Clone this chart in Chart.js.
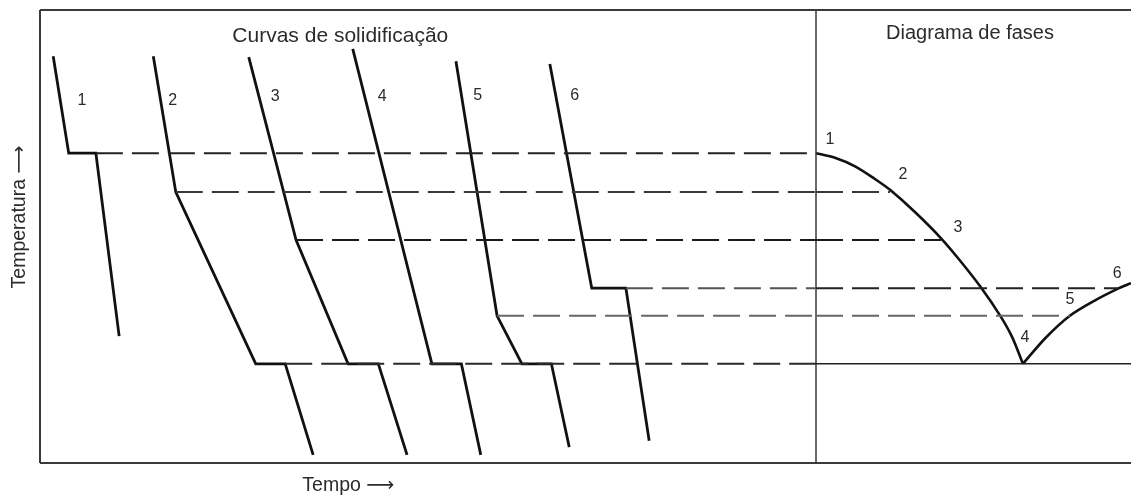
<!DOCTYPE html>
<html>
<head>
<meta charset="utf-8">
<script src="https://cdn.jsdelivr.net/npm/chart.js@4.4.1/dist/chart.umd.min.js"></script>
<style>
  html, body { margin: 0; padding: 0; background: #fff; }
  #wrap { width: 1131px; height: 498px; }
</style>
</head>
<body>
<div id="wrap"><canvas id="c"></canvas></div>
<script>
// Cooling curves of six alloys: [time, temperature] break points
const curve1 = [[1.7, 89.8], [3.7, 68.4], [7.2, 68.4], [10.2, 28.0]];
const curve2 = [[14.6, 89.8], [17.5, 59.8], [27.8, 21.9], [31.6, 21.9], [35.2, 1.8]];
const curve3 = [[26.9, 89.6], [33.0, 49.2], [39.7, 21.9], [43.6, 21.9], [47.3, 1.8]];
const curve4 = [[40.3, 91.4], [50.5, 21.9], [54.3, 21.9], [56.8, 1.8]];
const curve5 = [[53.6, 88.7], [58.9, 32.5], [62.1, 21.9], [65.9, 21.9], [68.2, 3.5]];
const curve6 = [[65.7, 88.1], [71.1, 38.6], [75.5, 38.6], [78.5, 4.9]];

// Liquidus temperature and composition of each alloy (1..6)
const liquidusTemps = [68.4, 59.8, 49.2, 21.9, 32.5, 38.6];
const alloyComps = [0, 23.5, 39.7, 65.7, 80.6, 96.2];
// Time at which each dashed tie line leaves its cooling curve
const tieStartTimes = [7.2, 17.5, 33.0, 31.6, 58.9, 75.5];

// Liquidus branches of the phase diagram: [composition, temperature]
const liquidusLeft = [[0, 68.4], [6.0, 67.4], [12.4, 65.5], [18.7, 62.7], [23.5, 60.3], [31.4, 55.4],
                      [39.7, 49.6], [45.7, 44.7], [52.1, 39.0], [58.4, 32.6], [62.2, 27.9], [65.7, 21.9]];
const liquidusRight = [[65.7, 21.9], [73.0, 27.7], [80.6, 32.5], [88.6, 35.9], [96.2, 38.6], [100, 39.7]];
const eutecticTemp = 21.9;

const curveLabels = ['1', '2', '3', '4', '5', '6'];

const pts = arr => arr.map(([x, y]) => ({ x, y }));

const datasets = [];

// Tie lines from the arrest points to the phase diagram
const tieColors = ['#222', '#3a3a3a', '#1a1a1a', '#2a2a2a', '#666', '#555'];
liquidusTemps.forEach((T, i) => {
  datasets.push({
    data: pts([[tieStartTimes[i], T], [100, T]]),
    xAxisID: 'x', borderColor: tieColors[i], borderWidth: 2, borderDash: [27, 9]
  });
  if (i === 3) {
    // eutectic isotherm, solid across the phase diagram
    datasets.push({
      data: pts([[0, eutecticTemp], [100, eutecticTemp]]),
      xAxisID: 'xc', borderColor: '#222', borderWidth: 1.6
    });
  } else if (alloyComps[i] > 0) {
    datasets.push({
      data: pts([[0, T], [alloyComps[i], T]]),
      xAxisID: 'xc', borderColor: i === 5 ? '#222' : tieColors[i], borderWidth: 2, borderDash: [27, 9]
    });
  }
});

// Frame and phase-diagram axis
const frameTimeMax = 140.59;
[
  { d: [[0, 100], [frameTimeMax, 100]], ax: 'x' },
  { d: [[0, 0], [0, 100]], ax: 'x' },
  { d: [[0, 0], [frameTimeMax, 0]], ax: 'x' },
  { d: [[0, 0], [0, 100]], ax: 'xc', w: 1.5 }
].forEach(f => datasets.push({
  data: pts(f.d), xAxisID: f.ax, borderColor: '#3a3a3a', borderWidth: f.w || 2, clip: 4
}));

// Liquidus curve
[liquidusLeft, liquidusRight].forEach(b => datasets.push({
  data: pts(b), xAxisID: 'xc', borderColor: '#111', borderWidth: 2.6,
  tension: 0.3
}));

// Cooling curves
[curve1, curve2, curve3, curve4, curve5, curve6].forEach(c => datasets.push({
  data: pts(c), xAxisID: 'x', borderColor: '#111', borderWidth: 2.8,
  borderJoinStyle: 'miter'
}));

datasets.forEach(d => {
  d.showLine = true;
  d.pointRadius = 0;
  d.pointHoverRadius = 0;
  d.yAxisID = 'y';
  d.fill = false;
});

// Text drawn in data coordinates
const textItems = [
  { text: 'Curvas de solidificação', ax: 'x', x: 38.7, y: 94.2, size: 21 },
  { text: 'Diagrama de fases', ax: 'xc', x: 48.9, y: 94.9, size: 20 },
  // cooling-curve numbers
  { text: curveLabels[0], ax: 'x', x: 5.4, y: 80.1, size: 16 },
  { text: curveLabels[1], ax: 'x', x: 17.1, y: 80.1, size: 16 },
  { text: curveLabels[2], ax: 'x', x: 30.3, y: 80.8, size: 16 },
  { text: curveLabels[3], ax: 'x', x: 44.1, y: 80.8, size: 16 },
  { text: curveLabels[4], ax: 'x', x: 56.4, y: 81.0, size: 16 },
  { text: curveLabels[5], ax: 'x', x: 68.9, y: 81.2, size: 16 },
  // phase-diagram numbers
  { text: curveLabels[0], ax: 'xc', x: 4.4, y: 71.3, size: 16 },
  { text: curveLabels[1], ax: 'xc', x: 27.6, y: 63.6, size: 16 },
  { text: curveLabels[2], ax: 'xc', x: 45.1, y: 51.9, size: 16 },
  { text: curveLabels[3], ax: 'xc', x: 66.3, y: 27.6, size: 16 },
  { text: curveLabels[4], ax: 'xc', x: 80.6, y: 36.0, size: 16 },
  { text: curveLabels[5], ax: 'xc', x: 95.6, y: 41.9, size: 16 }
];

const textPlugin = {
  id: 'sketchText',
  afterDatasetsDraw(chart) {
    const { ctx, scales, chartArea } = chart;
    const font = s => s + 'px "Liberation Sans", Arial, "DejaVu Sans", sans-serif';
    ctx.save();
    ctx.fillStyle = '#2b2b2b';
    ctx.textBaseline = 'middle';
    textItems.forEach(it => {
      ctx.font = font(it.size);
      ctx.textAlign = 'center';
      ctx.fillText(it.text, scales[it.ax].getPixelForValue(it.x), scales.y.getPixelForValue(it.y));
    });
    // axis titles
    ctx.font = font(19.5);
    ctx.textAlign = 'left';
    ctx.fillText('Tempo \u27F6', scales.x.getPixelForValue(33.8), chartArea.bottom + 23);
    ctx.save();
    ctx.translate(chartArea.left - 20, scales.y.getPixelForValue(54.3));
    ctx.rotate(-Math.PI / 2);
    ctx.textAlign = 'center';
    ctx.fillText('Temperatura \u27F6', 0, 0);
    ctx.restore();
    ctx.restore();
  }
};

new Chart(document.getElementById('c'), {
  type: 'scatter',
  data: { datasets },
  plugins: [textPlugin],
  options: {
    responsive: true,
    maintainAspectRatio: false,
    animation: false,
    layout: { padding: { left: 40, right: 0, top: 10, bottom: 35 } },
    plugins: { legend: { display: false }, tooltip: { enabled: false } },
    events: [],
    scales: {
      x: { type: 'linear', min: 0, max: frameTimeMax, display: false },
      xc: { type: 'linear', min: -246.35, max: 100, display: false },
      y: { type: 'linear', min: 0, max: 100, display: false }
    }
  }
});
</script>
</body>
</html>
